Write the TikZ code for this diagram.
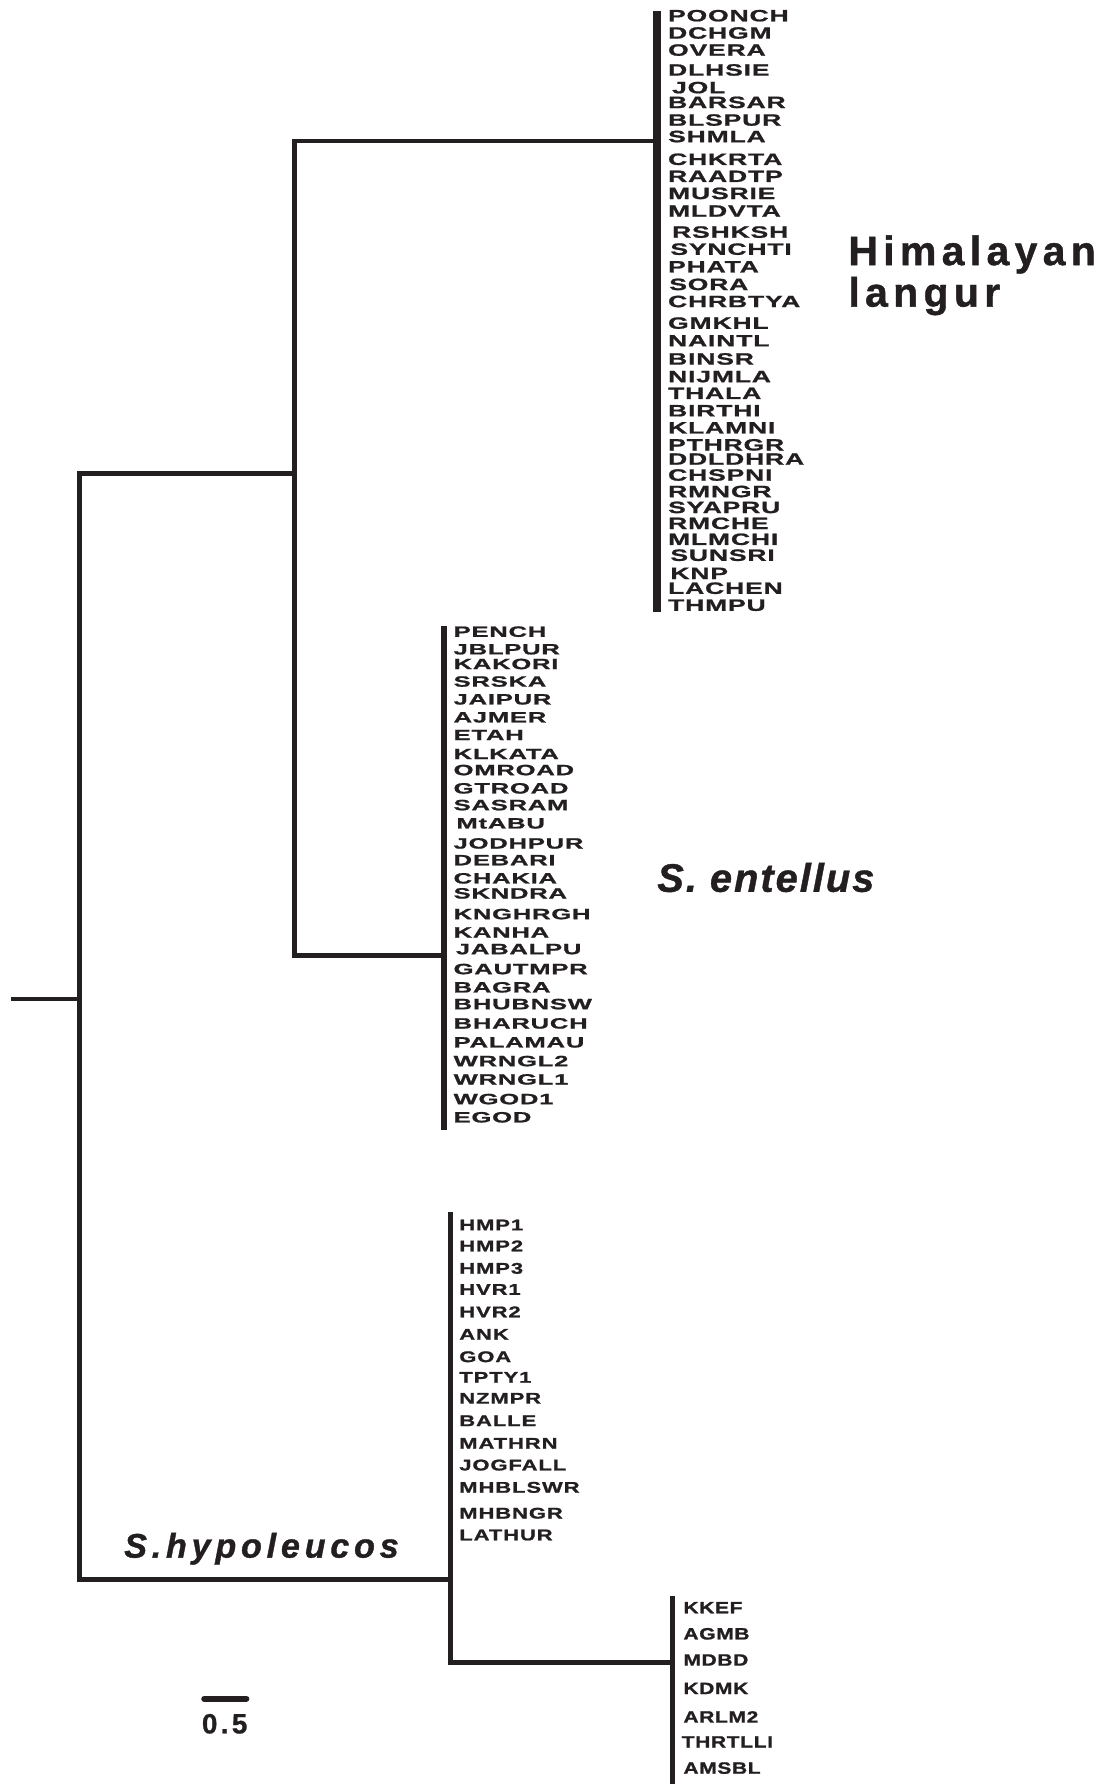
\documentclass[tikz,border=0pt]{standalone}
\usepackage{fontspec}
\setmainfont{Liberation Sans}
% tip-label faces: wide, lightly tracked heavy sans
\newfontfamily\himfont{Liberation Sans}[FakeStretch=1.62,LetterSpace=5,FakeBold=1.2]
\newfontfamily\entfont{Liberation Sans}[FakeStretch=1.72,LetterSpace=5,FakeBold=1.2]
\newfontfamily\hypfont{Liberation Sans}[FakeStretch=1.42,LetterSpace=6,FakeBold=1.2]
\newfontfamily\kkfont{Liberation Sans}[FakeStretch=1.28,LetterSpace=4,FakeBold=1.2]
% clade labels
\newfontfamily\cladefont{Liberation Sans}[LetterSpace=13,FakeBold=1]
\newfontfamily\entcladefont{Liberation Sans}[LetterSpace=5,FakeBold=1]
\newfontfamily\hypcladefont{Liberation Sans}[LetterSpace=14,FakeBold=1]
\newfontfamily\scalefont{Liberation Sans}[LetterSpace=12,FakeBold=0.8]
\definecolor{ink}{HTML}{231F20}
\begin{document}
\begin{tikzpicture}[x=1pt,y=-1pt,
  branch/.style={draw=ink,line width=4.1pt,line join=miter,line cap=rect},
  stub/.style={draw=ink,line width=3.2pt},
  tipbar/.style={draw=ink,line width=#1},
  himtip/.style={anchor=west,inner sep=0pt,text=ink,font=\himfont\bfseries\fontsize{14.4}{15}\selectfont},
  enttip/.style={anchor=west,inner sep=0pt,text=ink,font=\entfont\bfseries\fontsize{13.1}{14}\selectfont},
  hyptip/.style={anchor=west,inner sep=0pt,text=ink,font=\hypfont\bfseries\fontsize{13.6}{14}\selectfont},
  kktip/.style={anchor=west,inner sep=0pt,text=ink,font=\kkfont\bfseries\fontsize{14.4}{15}\selectfont},
  clade/.style={anchor=base west,inner sep=0pt,text=ink}]
\useasboundingbox (0,0) rectangle (973,1568);

% internal nodes of the tree
\coordinate (stub) at (10,878);
\coordinate (root) at (70,878);
\coordinate (rootT) at (70,416);
\coordinate (rootB) at (70,1388);
\coordinate (ab) at (259,416);
\coordinate (abT) at (259,124);
\coordinate (abB) at (259,840);
\coordinate (himM) at (577.5,124);
\coordinate (himT) at (577.5,10);
\coordinate (himB) at (577.5,538);
\coordinate (entM) at (390,840);
\coordinate (entT) at (390,550);
\coordinate (entB) at (390,993);
\coordinate (hypM) at (396,1388);
\coordinate (hypT) at (396,1065);
\coordinate (hypB) at (396,1461);
\coordinate (kkM) at (591,1461);
\coordinate (kkT) at (591,1403);
\coordinate (kkB) at (591,1570);

% branches
\draw[stub] (stub) -- (root);
\draw[branch] (ab) -- (rootT) -- (rootB) -- (hypM);
\draw[branch] (himM) -- (abT) -- (abB) -- (entM);
\draw[branch] (hypB) -- (kkM);

% terminal bars
\draw[tipbar=6.4pt] (himT) -- (himB);
\draw[tipbar=5.3pt] (entT) -- (entB);
\draw[tipbar=4.6pt] (hypT) -- (hypB);
\draw[tipbar=4.6pt] (kkT) -- (kkB);

% Himalayan langur tips
\foreach \t/\x/\y in {POONCH/587/13.8, DCHGM/587/29, OVERA/587/44, DLHSIE/587/61.5,
  JOL/590.5/77, BARSAR/587/90, BLSPUR/587/105.5, SHMLA/587/120, CHKRTA/587/140,
  RAADTP/587/155, MUSRIE/587/170, MLDVTA/587/185.5, RSHKSH/590.5/204,
  SYNCHTI/589/219, PHATA/587/234.5, SORA/588/250, CHRBTYA/587/265,
  GMKHL/587/284, NAINTL/587/299.5, BINSR/587/315.5, NIJMLA/587/331,
  THALA/587/345.7, BIRTHI/587/361, KLAMNI/587/376, PTHRGR/587/391,
  DDLDHRA/587/403.5, CHSPNI/587/417.5, RMNGR/587/432, SYAPRU/587/446,
  RMCHE/587/460, MLMCHI/587/474, SUNSRI/589/488, KNP/589/504,
  LACHEN/587/517, THMPU/587/532}
  \node[himtip] (tip-\t) at (\x,\y) {\t};

% S. entellus tips
\foreach \t/\x/\y in {PENCH/398.5/555.2, JBLPUR/398.5/570.7, KAKORI/398.5/583.6,
  SRSKA/398.5/599, JAIPUR/398.5/614.7, AJMER/398.5/630.5, ETAH/398.5/646,
  KLKATA/398.5/662.7, OMROAD/398.5/676.8, GTROAD/398.5/692.9, SASRAM/398.5/707.6,
  MtABU/401/723.7, JODHPUR/398.5/741.3, DEBARI/398.5/756, CHAKIA/398.5/772,
  SKNDRA/398.5/785.2, KNGHRGH/398.5/803.4, KANHA/398.5/819.5, JABALPU/400.5/834.2,
  GAUTMPR/398.5/851.7, BAGRA/398.5/867.8, BHUBNSW/398.5/882.5, BHARUCH/398.5/899.5,
  PALAMAU/398.5/916.2, WRNGL2/398.5/932.6, WRNGL1/398.5/948.7, WGOD1/398.5/966,
  EGOD/398.5/982}
  \node[enttip] (tip-\t) at (\x,\y) {\t};

% S. hypoleucos tips, upper group
\foreach \t/\y in {HMP1/1076.7, HMP2/1095, HMP3/1114.8, HVR1/1133.3, HVR2/1153,
  ANK/1172.8, GOA/1192.5, TPTY1/1210.6, NZMPR/1229, BALLE/1248.7, MATHRN/1268.6,
  JOGFALL/1287.7, MHBLSWR/1307.3, MHBNGR/1330, LATHUR/1349.2}
  \node[hyptip] (tip-\t) at (403.5,\y) {\t};

% S. hypoleucos tips, lower group
\foreach \t/\x/\y in {KKEF/600.5/1413, AGMB/600.5/1436, MDBD/600.5/1459,
  KDMK/600.5/1484, ARLM2/600.5/1509, THRTLLI/599/1531, AMSBL/600.5/1554}
  \node[kktip] (tip-\t) at (\x,\y) {\t};

% clade names
\node[clade,font=\cladefont\bfseries\fontsize{36}{38}\selectfont] (himname) at (745.5,233) {Himalayan};
\node[clade,font=\cladefont\bfseries\fontsize{36}{38}\selectfont] (himname2) at (745.5,269.5) {langur};
\node[clade,font=\entcladefont\bfseries\itshape\fontsize{35}{36}\selectfont] (entname) at (577.5,783.8) {S. entellus};
\node[clade,font=\hypcladefont\bfseries\itshape\fontsize{30}{31}\selectfont] (hypname) at (109,1369) {S.hypoleucos};

% scale bar
\coordinate (sbL) at (179.5,1493);
\coordinate (sbR) at (216.5,1493);
\draw[draw=ink,line width=5.3pt,line cap=round] (sbL) -- (sbR);
\node[clade,font=\scalefont\bfseries\fontsize{24.5}{25}\selectfont] (sblabel) at (177.3,1523.5) {0.5};
\end{tikzpicture}
\end{document}
